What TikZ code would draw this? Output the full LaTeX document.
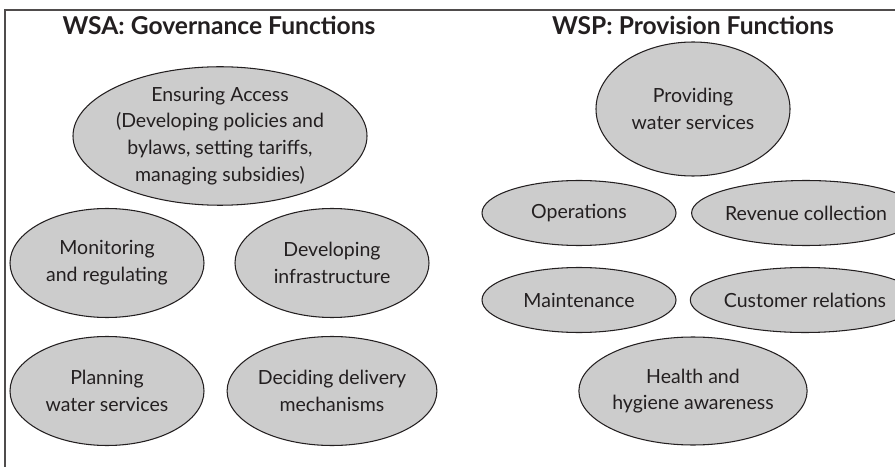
\documentclass[tikz,border=0pt]{standalone}
\usepackage{fontspec}
\setmainfont{Lato}
\usetikzlibrary{shapes.geometric, positioning}
\definecolor{funcfill}{HTML}{CCCCCC}
\definecolor{inkcolor}{HTML}{231F20}

\begin{document}
\begin{tikzpicture}[
    func/.style={ellipse, draw=inkcolor, fill=funcfill, line width=0.6pt,
                 inner sep=0pt, minimum width=3.88cm, minimum height=2.18cm,
                 align=center, text=inkcolor,
                 font=\fontsize{11.1}{15.2}\selectfont},
    flat/.style={func, minimum height=1.3cm},
    heading/.style={font=\fontsize{14}{16}\selectfont\bfseries, text=inkcolor}
]
    \useasboundingbox (0,0) rectangle (17.9,9.32);
    \clip (0,0) rectangle (17.9,9.32);
    \draw[inkcolor!80, line width=0.8pt] (0.1,-0.2) |- (18.2,9.12);

    % governance side
    \node[heading] (wsa) at (4.38,8.82) {WSA: Governance Functions};
    \node[func, minimum width=5.18cm, minimum height=2.72cm] (access) at (4.40,6.60)
        {Ensuring Access\\(Developing policies and\\bylaws, setting tariffs,\\managing subsidies)};
    \node[func] (monitor) at (2.14,4.06) {Monitoring\\and regulating};
    \node[func] (infra) at (6.64,4.06) {Developing\\infrastructure};
    \node[func] (plan) at (2.14,1.50) {Planning\\water services};
    \node[func] (deliver) at (6.64,1.50) {Deciding delivery\\mechanisms};

    % provision side
    \node[heading] (wsp) at (13.86,8.82) {WSP: Provision Functions};
    \node[func, minimum height=2.68cm] (provide) at (13.86,7.14) {Providing\\water services};
    \node[flat] (ops) at (11.58,5.06) {Operations};
    \node[flat] (revenue) at (16.12,5.06) {Revenue collection};
    \node[flat] (maint) at (11.58,3.32) {Maintenance};
    \node[flat] (customer) at (16.10,3.32) {Customer relations};
    \node[func, minimum width=3.84cm, minimum height=2.16cm] (health) at (13.86,1.50)
        {Health and\\hygiene awareness};
\end{tikzpicture}
\end{document}
